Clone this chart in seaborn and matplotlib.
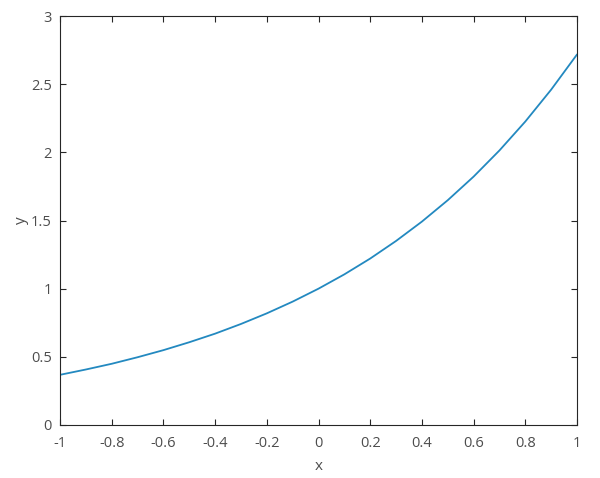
import matplotlib
matplotlib.use("Agg")
import matplotlib.pyplot as plt
import pandas as pd
import seaborn as sns

# values
x_vals = [-1.0, -0.9, -0.8, -0.7, -0.6, -0.5, -0.4, -0.3, -0.2, -0.1, 0.0,
          0.1, 0.2, 0.3, 0.4, 0.5, 0.6, 0.7, 0.8, 0.9, 1.0]
y_vals = [0.368, 0.407, 0.449, 0.497, 0.549, 0.607, 0.670, 0.741, 0.819, 0.905, 1.0,
          1.105, 1.221, 1.350, 1.492, 1.649, 1.822, 2.014, 2.226, 2.460, 2.718]
x_ticks = [-1, -0.8, -0.6, -0.4, -0.2, 0, 0.2, 0.4, 0.6, 0.8, 1]
x_labels = ["-1", "-0.8", "-0.6", "-0.4", "-0.2", "0", "0.2", "0.4", "0.6", "0.8", "1"]
y_ticks = [0, 0.5, 1, 1.5, 2, 2.5, 3]
y_labels = ["0", "0.5", "1", "1.5", "2", "2.5", "3"]

df = pd.DataFrame({"x": x_vals, "y": y_vals})

sns.set_style("ticks")
plt.rcParams['font.family'] = ['Open Sans', 'DejaVu Sans']

fig = plt.figure(figsize=(6, 4.78), dpi=100)
ax = fig.add_axes([0.1, 0.1109, 0.8617, 0.8556])
sns.lineplot(data=df, x="x", y="y", color="#2389c0", linewidth=1.3, ax=ax)

ax.set_xlim(-1, 1)
ax.set_ylim(0, 3)
ax.set_xticks(x_ticks)
ax.set_xticklabels(x_labels)
ax.set_yticks(y_ticks)
ax.set_yticklabels(y_labels)
ax.set_xlabel("x", fontsize=11, color="#4d4d4d", labelpad=6)
ax.set_ylabel("y", fontsize=11, color="#4d4d4d", labelpad=1)
ax.tick_params(direction="in", top=True, right=True, length=4, width=0.8,
               labelsize=10.5, colors="#262626", labelcolor="#4d4d4d")
ax.tick_params(axis="x", pad=8)
ax.tick_params(axis="y", pad=6)
for s in ax.spines.values():
    s.set_visible(True)
    s.set_linewidth(0.8)
    s.set_color("#262626")

fig.savefig("out.png", dpi=100)
